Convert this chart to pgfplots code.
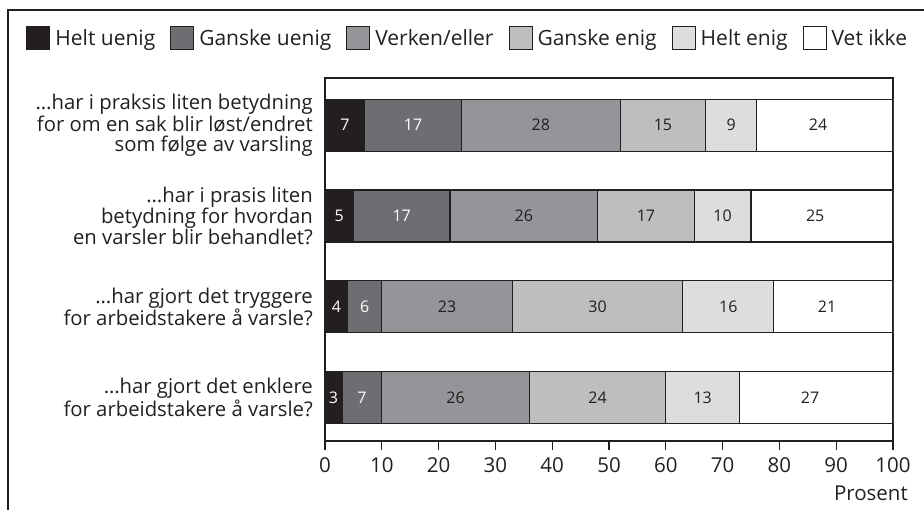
\documentclass[border=0pt]{standalone}
\usepackage{pgfplots}
\pgfplotsset{compat=1.18}
\usepackage{fontspec}
\setmainfont{Open Sans}
\definecolor{c1}{HTML}{231F20}
\definecolor{c2}{HTML}{6D6E71}
\definecolor{c3}{HTML}{939598}
\definecolor{c4}{HTML}{BCBEC0}
\definecolor{c5}{HTML}{DCDDDE}
\definecolor{c6}{HTML}{FFFFFF}
\pgfplotsset{
  frameaxis/.style={
    at={(325pt,68pt)}, anchor=south west,
    width=568pt, height=363pt, scale only axis,
    xmin=0, xmax=100, ymin=-0.48, ymax=3.52,
  }
}
\begin{document}
\begin{tikzpicture}[x=1pt,y=1pt]
\useasboundingbox (0,0) rectangle (924,509);
\draw[line width=2pt, c1] (8,-5) -- (8,499) -- (930,499);
\begin{axis}[
  frameaxis,
  xbar stacked, bar width=52pt,
  xtick={0,10,...,100}, ytick={0,1,2,3},
  xtick pos=bottom, xtick align=outside,
  major tick length=9pt,
  ytick style={draw=none},
  axis line style={line width=1.2pt, c1},
  xtick style={line width=1.2pt, c1},
  /pgf/number format/assume math mode=true,
  xticklabel style={font=\fontsize{20.5}{20}\selectfont, text=c1, inner sep=0pt, yshift=-7pt},
  yticklabel style={font=\fontsize{20.3}{20}\selectfont, text=c1, align=right, inner sep=0pt, xshift=-12pt},
  yticklabels={{…har gjort det enklere\\for arbeidstakere å varsle?},
               {…har gjort det tryggere\\for arbeidstakere å varsle?},
               {…har i prasis liten\\betydning for hvordan\\en varsler blir behandlet?},
               {…har i praksis liten betydning\\for om en sak blir løst/endret\\som følge av varsling}},
  xlabel={Prosent},
  xlabel style={at={(rel axis cs:1,0)}, anchor=base east, xshift=15pt, yshift=-59pt, font=\fontsize{20.5}{20}\selectfont, text=c1, inner sep=0pt},
  legend columns=6,
  legend style={draw=none, fill=none, at={(-0.526,1.110)}, anchor=west, inner sep=0pt,
     nodes={inner sep=0pt, font=\fontsize{21}{20}\selectfont, text=c1},
     /tikz/every odd column/.append style={column sep=5pt},
     /tikz/every even column/.append style={column sep=15pt}},
  legend cell align=left,
  legend image code/.code={\draw[#1, line width=1pt, draw=c1] (0pt,-11.5pt) rectangle (23pt,11.5pt);},
]
\addplot[fill=c1, draw=c1, line width=1.3pt]
  coordinates {(3,0) (4,1) (5,2) (7,3)};
\addplot[fill=c2, draw=c1, line width=1.3pt]
  coordinates {(7,0) (6,1) (17,2) (17,3)};
\addplot[fill=c3, draw=c1, line width=1.3pt]
  coordinates {(26,0) (23,1) (26,2) (28,3)};
\addplot[fill=c4, draw=c1, line width=1.3pt]
  coordinates {(24,0) (30,1) (17,2) (15,3)};
\addplot[fill=c5, draw=c1, line width=1.3pt]
  coordinates {(13,0) (16,1) (10,2) (9,3)};
\addplot[fill=c6, draw=c1, line width=1.3pt]
  coordinates {(27,0) (21,1) (25,2) (24,3)};
\legend{Helt uenig, Ganske uenig, Verken/eller, Ganske enig, Helt enig, Vet ikke}
\end{axis}
\begin{axis}[
  frameaxis, hide axis,
  point meta=explicit symbolic,
  nodes near coords,
  every node near coord/.append style={anchor=center, font=\fontsize{16}{15}\selectfont, inner sep=0pt},
]
\addplot[only marks, mark=none, draw=none, every node near coord/.append style={text=white}]
  coordinates {(1.5,0) [3] (2,1) [4] (2.5,2) [5] (3.5,3) [7]
               (6.5,0) [7] (7,1) [6] (13.5,2) [17] (15.5,3) [17]};
\addplot[only marks, mark=none, draw=none, every node near coord/.append style={text=c1}]
  coordinates {(23,0) [26] (21.5,1) [23] (35,2) [26] (38,3) [28]
               (48,0) [24] (48,1) [30] (56.5,2) [17] (59.5,3) [15]
               (66.5,0) [13] (71,1) [16] (70,2) [10] (71.5,3) [9]
               (85.4,0) [27] (88.4,1) [21] (86.3,2) [25] (86.8,3) [24]};
\end{axis}
\end{tikzpicture}
\end{document}
